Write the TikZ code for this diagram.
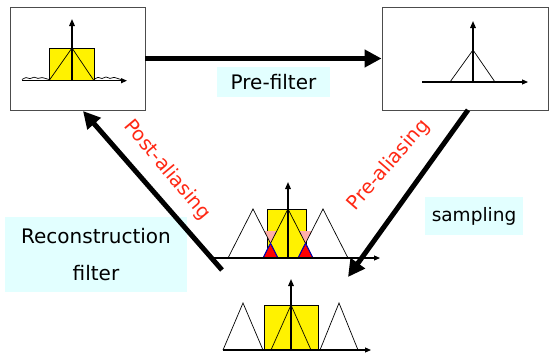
\documentclass[tikz,border=0pt]{standalone}
\usepackage{fontspec}
\setmainfont{DejaVu Sans}
\usetikzlibrary{arrows.meta}
\definecolor{lcyan}{RGB}{226,255,255}
\definecolor{pinkal}{RGB}{255,175,170}
\definecolor{redtxt}{RGB}{255,40,20}
\begin{document}
\begin{tikzpicture}[x=1pt,y=-1pt,
  frame/.style={draw=black!70,line width=0.9pt,inner sep=0pt},
  lab/.style={fill=lcyan,inner sep=0pt,align=center},
  redlab/.style={text=redtxt,font=\fontsize{19.5}{22}\selectfont,inner sep=0pt},
  bigarrow/.style={line width=5pt,-{Triangle[length=17pt,width=17pt]}},
  axis/.style={line width=1.1pt,-{Triangle[length=6pt,width=5pt]}},
  varrow/.style={line width=1.5pt,-{Triangle[length=7pt,width=5.5pt]}},
  thin/.style={line width=0.7pt},
  yel/.style={fill=yellow,draw=black,line width=0.8pt}]
\useasboundingbox (0,0) rectangle (549,356);

% boxes
\node[frame,minimum width=135pt,minimum height=103pt] (L) at (77.5,58.5) {};
\node[frame,minimum width=166pt,minimum height=103pt] (R) at (465,58.5) {};

% left box content
\draw[yel] (49,48) rectangle (94,80.7);
\draw[thin] (49,80.7) -- (72,48) -- (94,80.7);
\draw[thin,smooth] plot coordinates {(22,79.5) (26,77.6) (30,78.6) (34,77.2) (38,78.4) (42,77.6) (46,78.6) (49,79.5)};
\draw[thin,smooth] plot coordinates {(94,79.5) (98,77.4) (102,78.5) (106,77.0) (110,78.4) (114,77.4) (118,78.6) (121,79.5)};
\coordinate (la0) at (22,80.7); \coordinate (la1) at (127,80.7);
\draw[axis] (la0) -- (la1);
\coordinate (lv0) at (72,80.7); \coordinate (lv1) at (72,19);
\draw[varrow] (lv0) -- (lv1);

% right box content
\draw[thin] (450,82) -- (473,50) -- (495,82);
\coordinate (ra0) at (422,82); \coordinate (ra1) at (528,82);
\draw[axis] (ra0) -- (ra1);
\coordinate (rv0) at (473,82); \coordinate (rv1) at (473,21);
\draw[varrow] (rv0) -- (rv1);

% middle plot
\draw[yel] (267,209) rectangle (306,258);
\fill[pinkal] (264,231) -- (277,231) -- (270.5,243.3) -- cycle;
\fill[pinkal] (299,231) -- (312,231) -- (305.5,243.3) -- cycle;
\fill[red] (263,258) -- (270.5,243.3) -- (278,258) -- cycle;
\fill[red] (298,258) -- (305.5,243.3) -- (313,258) -- cycle;
\draw[thin] (228,258) -- (253,209) -- (278,258);
\draw[thin] (263,258) -- (288,209) -- (313,258);
\draw[thin] (298,258) -- (323,209) -- (348,258);
\draw[blue!80!black,line width=0.9pt] (263,258) -- (270.5,243.3) -- (278,258);
\draw[blue!80!black,line width=0.9pt] (298,258) -- (305.5,243.3) -- (313,258);
\coordinate (ma0) at (213,258); \coordinate (ma1) at (380,258);
\draw[axis] (ma0) -- (ma1);
\coordinate (mv0) at (288,258); \coordinate (mv1) at (288,182);
\draw[varrow] (mv0) -- (mv1);

% bottom plot
\draw[yel] (264,305) rectangle (318,350);
\draw[thin] (223,350) -- (243,303) -- (263,350);
\draw[thin] (271,350) -- (291,305) -- (311,350);
\draw[thin] (320,350) -- (339,303) -- (358,350);
\coordinate (ba0) at (223,350); \coordinate (ba1) at (371,350);
\draw[axis] (ba0) -- (ba1);
\coordinate (bv0) at (291,350); \coordinate (bv1) at (291,279);
\draw[varrow] (bv0) -- (bv1);

% labels
\node[lab,minimum width=113pt,minimum height=30pt,font=\fontsize{20}{24}\selectfont] (pf) at (273.5,82) {Pre-filter};
\node[lab,minimum width=98pt,minimum height=38pt,font=\fontsize{18.5}{22}\selectfont] (smp) at (474,216) {sampling};
\node[lab,minimum width=182pt,minimum height=75pt,font=\fontsize{20}{37}\selectfont] (rf) at (96,254.5) {Reconstruction\\filter};

% connectors
\draw[bigarrow] (L.east) -- (R.west);
\coordinate (pa0) at (468,110); \coordinate (pa1) at (348,277);
\draw[bigarrow] (pa0) -- (pa1);
\coordinate (po0) at (222,270); \coordinate (po1) at (83,111);
\draw[bigarrow] (po0) -- (po1);

\node[redlab,rotate=-50] (postl) at (167,170) {Post-aliasing};
\node[redlab,rotate=49] (prel) at (389,165) {Pre-aliasing};
\end{tikzpicture}
\end{document}
